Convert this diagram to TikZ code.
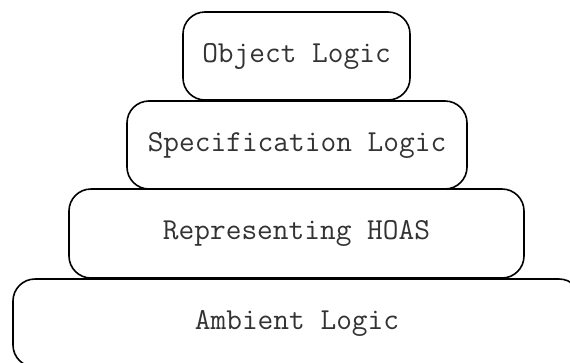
\documentclass[tikz,border=0pt]{standalone}
\usepackage{fontspec}
\begin{document}
\begin{tikzpicture}[x=1pt,y=-1pt,
  layer/.style={draw=black, fill=white, line width=1.6pt, rounded corners=22pt,
    inner sep=0pt, font=\ttfamily\fontsize{30.5}{34}\selectfont, text=black!80}]
\useasboundingbox (0,0) rectangle (570,362);
\clip (0,0) rectangle (570,362);
\node[layer, minimum width=227pt, minimum height=88pt] (obj) at (296.5,56) {\raisebox{-2pt}{Object Logic}};
\node[layer, minimum width=340pt, minimum height=88pt] (spec) at (297,145) {\raisebox{-2pt}{Specification Logic}};
\node[layer, minimum width=455pt, minimum height=89pt] (hoas) at (296.5,233.5) {\raisebox{-2pt}{Representing HOAS}};
\node[layer, minimum width=568pt, minimum height=88pt] (amb) at (297,323) {\raisebox{-2pt}{Ambient Logic}};
\end{tikzpicture}
\end{document}
